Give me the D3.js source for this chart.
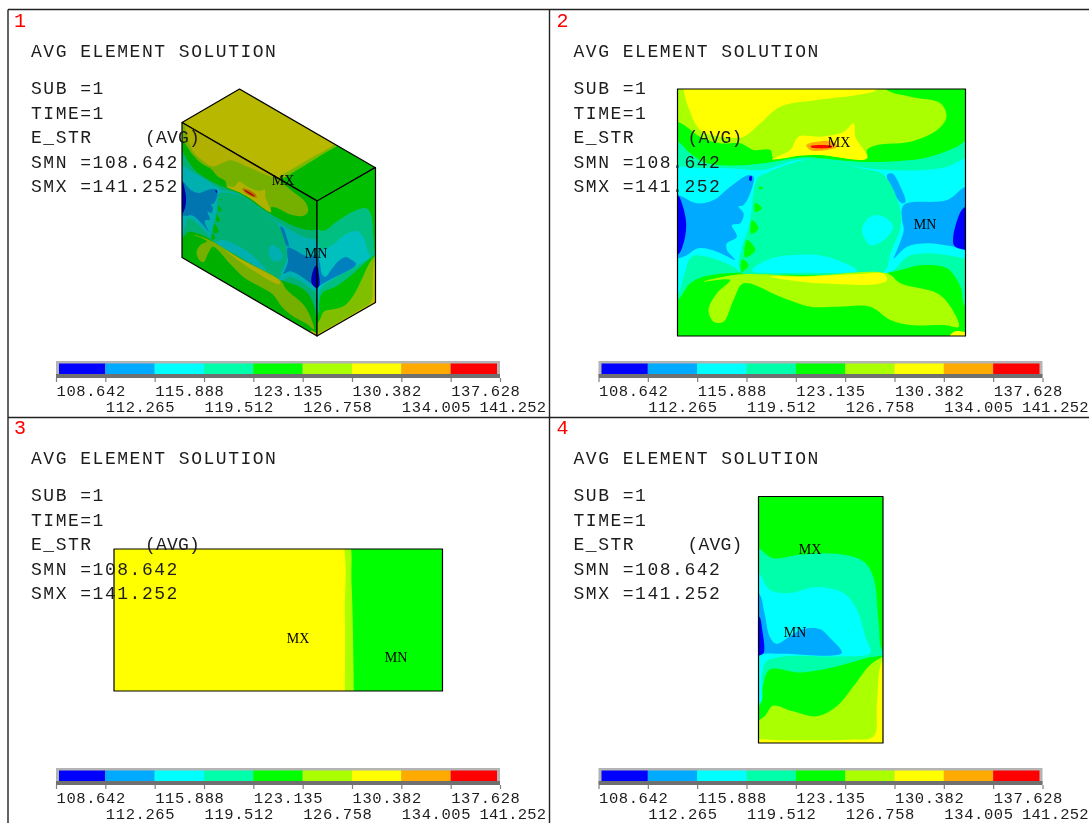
<!DOCTYPE html>
<html>
<head>
<meta charset="utf-8">
<title>AVG ELEMENT SOLUTION</title>
<script src="https://cdn.jsdelivr.net/npm/d3@7"></script>
<style>
  html, body { margin: 0; padding: 0; background: #fff; overflow: hidden; }
  svg { display: block; filter: blur(0.35px); }
  .note { font-family: "Liberation Mono", monospace; font-size: 18px; letter-spacing: 1.52px; fill: #1c1c1c; }
  .tag { letter-spacing: 0.2px; }
  .tickLabel { font-family: "Liberation Mono", monospace; font-size: 15.5px; letter-spacing: 0.6px; fill: #1c1c1c; }
  .lastLabel { letter-spacing: 0.25px; }
  .extreme { font-family: "Liberation Serif", serif; font-size: 14px; fill: #000; }
  .panelNo { font-family: "Liberation Mono", monospace; font-size: 20px; fill: #ff0000; }
</style>
</head>
<body>
<div id="chart"></div>
<script>
// contour legend
const levelLabels = ["108.642", "112.265", "115.888", "119.512", "123.135", "126.758", "130.382", "134.005", "137.628", "141.252"];
const bandColors = ["#0000ff", "#00aaff", "#00ffff", "#00ffaa", "#00ff00", "#aaff00", "#ffff00", "#ffaa00", "#ff0000"];
const BLUE = 0, SKY = 1, CYAN = 2, TEAL = 3, GREEN = 4, LIME = 5, YELLOW = 6, ORANGE = 7, RED = 8;

const noteLines = ["SUB =1", "TIME=1", "E_STR", "SMN =108.642", "SMX =141.252"];
const noteTag = "(AVG)";

// contour outlines on the front of the block, painted in this order: [band, outline]
const frontExtent = { u: [22, 885], v: [27, 768] };
const frontBase = GREEN;
const frontRegions = [
  [TEAL, [[-40, 185], [22, 185], [60, 220], [110, 250], [230, 255], [310, 245], [400, 232], [450, 235], [560, 245], [650, 245], [760, 235], [850, 205], [950, 150], [950, 690], [885, 680], [870, 620], [830, 565], [760, 555], [650, 578], [400, 585], [200, 578], [100, 590], [60, 610], [22, 660], [-40, 680]]],
  [CYAN, [[-40, 275], [100, 265], [180, 265], [280, 270], [330, 255], [380, 240], [500, 245], [570, 262], [650, 270], [760, 270], [830, 260], [950, 215], [950, 545], [860, 530], [770, 520], [710, 530], [660, 575], [400, 580], [210, 575], [190, 560], [110, 530], [65, 530], [40, 590], [22, 640], [-40, 640]]],
  [SKY, [[-40, 345], [22, 345], [80, 370], [130, 360], [180, 320], [235, 285], [250, 290], [240, 340], [220, 375], [205, 380], [220, 400], [210, 430], [185, 435], [200, 470], [170, 490], [170, 510], [195, 540], [140, 515], [85, 505], [40, 530], [-40, 535]]],
  [SKY, [[950, 310], [885, 320], [830, 360], [700, 375], [695, 420], [700, 450], [680, 510], [670, 535], [710, 500], [770, 490], [850, 500], [950, 515]]],
  [SKY, [[650, 285], [665, 280], [690, 320], [705, 365], [695, 370], [670, 340]]],
  [TEAL, [[262, 295], [290, 278], [370, 248], [420, 238], [500, 245], [570, 265], [640, 285], [690, 390], [690, 440], [660, 520], [640, 576], [400, 580], [212, 576], [240, 420]]],
  [CYAN, [[245, 572], [290, 540], [370, 525], [470, 530], [560, 572], [400, 578]]],
  [CYAN, [[575, 450], [600, 410], [640, 410], [668, 440], [640, 480], [600, 495]]],
  [GREEN, [[255, 368], [275, 385], [255, 396]]],
  [GREEN, [[245, 420], [265, 445], [243, 462]]],
  [GREEN, [[230, 480], [255, 510], [224, 532]]],
  [GREEN, [[215, 538], [235, 555], [214, 576]]],
  [GREEN, [[267, 320], [279, 324], [268, 329]]],
  [BLUE, [[-40, 345], [22, 345], [35, 370], [48, 430], [40, 490], [22, 525], [-40, 530]]],
  [BLUE, [[950, 370], [885, 380], [868, 400], [850, 495], [885, 510], [950, 515]]],
  [BLUE, [[237, 290], [244, 288], [244, 302], [238, 302]]],
  [LIME, [[-60, -60], [620, -20], [650, 30], [720, 50], [810, 70], [828, 110], [800, 150], [720, 185], [620, 195], [590, 210], [590, 235], [450, 225], [400, 225], [310, 235], [300, 210], [250, 210], [210, 190], [150, 190], [90, 170], [22, 125], [-60, 125]]],
  [YELLOW, [[-60, -40], [620, -40], [620, 27], [560, 45], [440, 60], [330, 80], [270, 130], [220, 170], [150, 170], [90, 150], [50, 70], [22, -20]]],
  [LIME, [[100, 605], [210, 583], [400, 588], [650, 580], [690, 610], [800, 640], [840, 680], [865, 740], [820, 735], [720, 735], [660, 720], [600, 680], [500, 680], [420, 680], [330, 650], [220, 610], [190, 660], [160, 725], [130, 725], [115, 690], [140, 640], [180, 600]]],
  [YELLOW, [[300, 590], [400, 590], [560, 583], [640, 582], [650, 600], [620, 612], [450, 610], [370, 602]]],
  [YELLOW, [[830, 790], [850, 755], [900, 765], [900, 790]]],
  [YELLOW, [[305, 238], [360, 210], [385, 170], [450, 170], [520, 155], [550, 130], [555, 170], [590, 235], [450, 225], [380, 228]]],
  [ORANGE, [[408, 195], [440, 185], [490, 185], [500, 200], [470, 210], [420, 210]]],
  [RED, [[422, 198], [485, 198], [485, 202], [422, 202]]]
];

// contours on the top of the block
const topExtent = { u: [42, 1028], v: [58, 482] };
const topBase = GREEN;
const topRegions = [
  [LIME, [[-300, -200], [600, -200], [745, 20], [755, 160], [762, 482], [762, 700], [-300, 700]]],
  [YELLOW, [[-300, -200], [600, -200], [725, 20], [735, 250], [735, 482], [735, 700], [-300, 700]]]
];

// contours on the side of the block
const sideExtent = { u: [27, 398], v: [20, 760] };
const sideBase = GREEN;
const sideRegions = [
  [TEAL, [[-20, 160], [27, 175], [70, 205], [150, 195], [260, 192], [340, 215], [370, 265], [385, 400], [398, 485], [440, 490], [350, 505], [260, 530], [150, 548], [60, 540], [40, 590], [30, 650], [-20, 730]]],
  [CYAN, [[-20, 235], [27, 250], [60, 300], [120, 310], [200, 292], [280, 310], [320, 360], [345, 440], [360, 490], [280, 500], [100, 500], [50, 515], [37, 560], [33, 640], [-20, 640]]],
  [SKY, [[-20, 300], [27, 310], [45, 370], [60, 440], [80, 462], [120, 440], [160, 418], [210, 418], [240, 445], [275, 490], [100, 492], [45, 492], [-20, 505]]],
  [BLUE, [[-20, 370], [27, 378], [38, 420], [42, 490], [27, 498], [-20, 500]]],
  [LIME, [[-20, 730], [45, 680], [70, 648], [130, 665], [200, 680], [260, 650], [310, 590], [360, 525], [398, 500], [450, 470], [450, 800], [-20, 800]]],
  [YELLOW, [[-20, 755], [100, 752], [300, 750], [370, 740], [380, 640], [398, 510], [450, 480], [450, 800], [-20, 800]]]
];

const width = 1089;
const height = 823;

const svg = d3.select("#chart").append("svg")
  .attr("width", width)
  .attr("height", height);

// one flat face: where it sits on the page and how dark it is shaded
function face(origin, uEnd, vEnd, extent, base, regions, shade) {
  return { origin, uEnd, vEnd, extent, base, regions, shade };
}

const frontFace = (o, u, v, shade) => face(o, u, v, frontExtent, frontBase, frontRegions, shade);
const topFace = (o, u, v, shade) => face(o, u, v, topExtent, topBase, topRegions, shade);
const sideFace = (o, u, v, shade) => face(o, u, v, sideExtent, sideBase, sideRegions, shade);

const panels = [
  {
    no: "1", dx: 0, dy: 0,
    faces: [
      topFace([239.5, 89], [375, 167.5], [182, 122.5], 0.72),
      frontFace([182, 122.5], [317, 201], [182, 257.5], 0.69),
      sideFace([317, 201], [375.5, 167.5], [317, 336], 0.75)
    ],
    mx: [283, 180], mn: [316, 253]
  },
  {
    no: "2", dx: 542.5, dy: 0,
    faces: [frontFace([677.5, 89], [965.5, 89], [677.5, 336], 1)],
    mx: [839, 142], mn: [925, 224]
  },
  {
    no: "3", dx: 0, dy: 407,
    faces: [topFace([114, 549], [442.5, 549], [114, 691], 1)],
    mx: [298, 638], mn: [396, 657]
  },
  {
    no: "4", dx: 542.5, dy: 407,
    faces: [sideFace([758.5, 496.5], [883, 496.5], [758.5, 743], 1)],
    mx: [810, 549], mn: [795, 632]
  }
];

const outline = d3.line().curve(d3.curveCatmullRomClosed.alpha(0.5));

function drawFace(g, f, id) {
  const uScale = d3.scaleLinear().domain(f.extent.u).range([0, 1]);
  const vScale = d3.scaleLinear().domain(f.extent.v).range([0, 1]);

  // model coordinates -> page, through the face's two edge vectors
  const project = ([u, v]) => [
    f.origin[0] + uScale(u) * (f.uEnd[0] - f.origin[0]) + vScale(v) * (f.vEnd[0] - f.origin[0]),
    f.origin[1] + uScale(u) * (f.uEnd[1] - f.origin[1]) + vScale(v) * (f.vEnd[1] - f.origin[1])
  ];

  const corners = [
    f.origin,
    f.uEnd,
    [f.uEnd[0] + f.vEnd[0] - f.origin[0], f.uEnd[1] + f.vEnd[1] - f.origin[1]],
    f.vEnd
  ];
  const border = "M" + corners.join("L") + "Z";

  const bandFill = band => {
    const c = d3.rgb(bandColors[band]);
    return d3.rgb(c.r * f.shade, c.g * f.shade, c.b * f.shade).formatHex();
  };

  svg.append("clipPath").attr("id", id).append("path").attr("d", border);

  const clip = g.append("g").attr("clip-path", `url(#${id})`);
  clip.append("path").attr("d", border).attr("fill", bandFill(f.base));
  clip.selectAll("path.region")
    .data(f.regions)
    .join("path")
    .attr("class", "region")
    .attr("d", d => outline(d[1].map(project)))
    .attr("fill", d => bandFill(d[0]));

  g.append("path")
    .attr("d", border)
    .attr("fill", "none")
    .attr("stroke", "#000")
    .attr("stroke-width", 1.2)
    .attr("stroke-linejoin", "round");
}

function drawLegend(g) {
  const barLeft = 56;
  const barWidth = 444;
  const barTop = 361;

  const bandScale = d3.scaleBand().domain(d3.range(bandColors.length)).range([0, barWidth]);
  const tickScale = d3.scalePoint().domain(levelLabels).range([0, barWidth]);

  const legend = g.append("g").attr("transform", `translate(${barLeft},${barTop})`);

  // grey frame, darker along the bottom
  legend.append("rect").attr("width", barWidth).attr("height", 16).attr("fill", "#b4b4b4");
  legend.append("rect").attr("y", 13).attr("width", barWidth).attr("height", 4).attr("fill", "#707070");

  legend.selectAll("rect.cell")
    .data(d3.range(bandColors.length))
    .join("rect")
    .attr("class", "cell")
    .attr("x", d => Math.max(bandScale(d), 3))
    .attr("y", 2.5)
    .attr("width", d => Math.min(bandScale(d) + bandScale.bandwidth(), barWidth - 3) - Math.max(bandScale(d), 3))
    .attr("height", 10.5)
    .attr("fill", d => bandColors[d]);

  const axis = legend.append("g")
    .attr("transform", "translate(0,17)")
    .call(d3.axisBottom(tickScale).tickSize(4).tickSizeOuter(0));

  axis.select(".domain").remove();
  axis.selectAll(".tick line").attr("stroke", "#808080").attr("stroke-width", 1.2);
  axis.selectAll(".tick text")
    .attr("class", (d, i) => i === levelLabels.length - 1 ? "tickLabel lastLabel" : "tickLabel")
    .attr("text-anchor", "start")
    .attr("font-family", null)
    .attr("font-size", null)
    .attr("fill", null)
    .attr("dy", null)
    .attr("x", (d, i) => i === levelLabels.length - 1 ? -21 : 0)
    .attr("y", (d, i) => i % 2 === 0 ? 18 : 34);
}

panels.forEach((p, i) => {
  const g = svg.append("g");

  p.faces.forEach((f, j) => drawFace(g, f, `face-${i}-${j}`));

  const page = g.append("g").attr("transform", `translate(${p.dx},${p.dy})`);

  page.append("text")
    .attr("class", "panelNo")
    .attr("x", 14)
    .attr("y", 27)
    .text(p.no);

  page.append("text")
    .attr("class", "note")
    .attr("x", 31)
    .attr("y", 57)
    .text("AVG ELEMENT SOLUTION");

  page.selectAll("text.line")
    .data(noteLines)
    .join("text")
    .attr("class", "note line")
    .attr("x", 31)
    .attr("y", (d, k) => 94 + k * 24.6)
    .text(d => d);

  page.append("text")
    .attr("class", "note tag")
    .attr("x", 145)
    .attr("y", 94 + 2 * 24.6)
    .text(noteTag);

  drawLegend(page);

  g.append("text").attr("class", "extreme").attr("x", p.mx[0]).attr("y", p.mx[1] + 5).attr("text-anchor", "middle").text("MX");
  g.append("text").attr("class", "extreme").attr("x", p.mn[0]).attr("y", p.mn[1] + 5).attr("text-anchor", "middle").text("MN");
});

// window frame and the lines between the panels
const frameLines = [
  [[8, 9.5], [width, 9.5]],
  [[8, 9.5], [8, height]],
  [[549.5, 9.5], [549.5, height]],
  [[8, 417.5], [width, 417.5]]
];

svg.selectAll("path.frame")
  .data(frameLines)
  .join("path")
  .attr("class", "frame")
  .attr("d", d3.line())
  .attr("stroke", "#222")
  .attr("stroke-width", 1.4)
  .attr("fill", "none");
</script>
</body>
</html>
